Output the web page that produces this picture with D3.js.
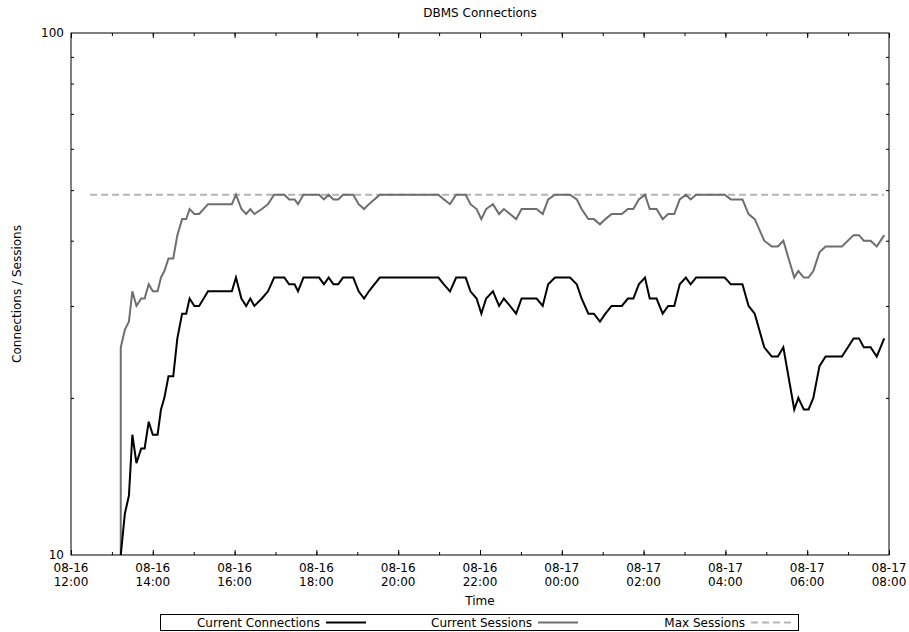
<!DOCTYPE html>
<html><head><meta charset="utf-8">
<script src="https://cdn.jsdelivr.net/npm/d3@7/dist/d3.min.js"></script>
<style>
body{margin:0;background:#fff;}
text{font-family:"DejaVu Sans",sans-serif;font-size:12px;fill:#000;}
</style></head>
<body><svg id="c" width="909" height="632"></svg>
<script>
const title = "DBMS Connections";
const xTitle = "Time";
const yTitle = "Connections / Sessions";
const seriesNames = ["Current Connections", "Current Sessions", "Max Sessions"];
const xDomain = ["08-16 12:00", "08-17 08:00"];
const yDomain = [10, 100];
const yTickLabels = [10, 100];
const yMinorTicks = [20, 30, 40, 50, 60, 70, 80, 90];

const connTimes = ["08-16 13:13","08-16 13:19","08-16 13:25","08-16 13:30","08-16 13:36","08-16 13:43","08-16 13:48","08-16 13:54","08-16 14:00","08-16 14:07","08-16 14:12","08-16 14:17","08-16 14:23","08-16 14:30","08-16 14:36","08-16 14:43","08-16 14:49","08-16 14:54","08-16 15:01","08-16 15:08","08-16 15:21","08-16 15:56","08-16 16:02","08-16 16:10","08-16 16:17","08-16 16:23","08-16 16:29","08-16 16:40","08-16 16:49","08-16 16:58","08-16 17:13","08-16 17:20","08-16 17:28","08-16 17:33","08-16 17:41","08-16 18:04","08-16 18:11","08-16 18:18","08-16 18:25","08-16 18:32","08-16 18:39","08-16 18:54","08-16 19:02","08-16 19:10","08-16 19:17","08-16 19:25","08-16 19:33","08-16 20:59","08-16 21:07","08-16 21:16","08-16 21:25","08-16 21:39","08-16 21:46","08-16 21:55","08-16 22:02","08-16 22:09","08-16 22:19","08-16 22:28","08-16 22:35","08-16 22:44","08-16 22:53","08-16 23:01","08-16 23:23","08-16 23:32","08-16 23:40","08-16 23:50","08-17 00:12","08-17 00:22","08-17 00:29","08-17 00:39","08-17 00:47","08-17 00:56","08-17 01:04","08-17 01:13","08-17 01:28","08-17 01:37","08-17 01:45","08-17 01:53","08-17 02:02","08-17 02:09","08-17 02:19","08-17 02:28","08-17 02:36","08-17 02:45","08-17 02:53","08-17 03:02","08-17 03:09","08-17 03:17","08-17 03:59","08-17 04:08","08-17 04:25","08-17 04:34","08-17 04:43","08-17 04:57","08-17 05:08","08-17 05:17","08-17 05:25","08-17 05:41","08-17 05:47","08-17 05:55","08-17 06:02","08-17 06:09","08-17 06:18","08-17 06:27","08-17 06:51","08-17 07:08","08-17 07:16","08-17 07:23","08-17 07:33","08-17 07:42","08-17 07:53"];
const connections = [10,12,13,17,15,16,16,18,17,17,19,20,22,22,26,29,29,31,30,30,32,32,34,31,30,31,30,31,32,34,34,33,33,32,34,34,33,34,33,33,34,34,32,31,32,33,34,34,33,32,34,34,32,31,29,31,32,30,31,30,29,31,31,30,33,34,34,33,31,29,29,28,29,30,30,31,31,33,34,31,31,29,30,30,33,34,33,34,34,33,33,30,29,25,24,24,25,19,20,19,19,20,23,24,24,26,26,25,25,24,26];

const sessTimes = ["08-16 13:13"].concat(connTimes);
const sessions = [10,25,27,28,32,30,31,31,33,32,32,34,35,37,37,41,44,44,46,45,45,47,47,49,46,45,46,45,46,47,49,49,48,48,47,49,49,48,49,48,48,49,49,47,46,47,48,49,49,48,47,49,49,47,46,44,46,47,45,46,45,44,46,46,45,48,49,49,48,46,44,44,43,44,45,45,46,46,48,49,46,46,44,45,45,48,49,48,49,49,48,48,45,44,40,39,39,40,34,35,34,34,35,38,39,39,41,41,40,40,39,41];

const maxTimes = ["08-16 12:28", "08-17 07:53"];
const maxSessions = [49, 49];

const parse = d3.utcParse("%Y-%m-%d %H:%M");
const P = s => parse("2015-" + s);

const W = 909, H = 632;
const m = {left: 71, right: 889, top: 33, bottom: 555};
const svg = d3.select("#c");
svg.append("rect").attr("width", W).attr("height", H).attr("fill", "#fff");

const x = d3.scaleUtc().domain(xDomain.map(P)).range([m.left, m.right]);
const y = d3.scaleLog().domain(yDomain).range([m.bottom, m.top]);

const majorX = d3.utcHour.every(2).range(P(xDomain[0]), d3.utcMinute.offset(P(xDomain[1]), 1));
const minorX = d3.utcHour.every(1).range(P(xDomain[0]), d3.utcMinute.offset(P(xDomain[1]), 1));
const fmtDay = d3.utcFormat("%m-%d"), fmtTime = d3.utcFormat("%H:%M");

const gB = svg.append("g").attr("transform", `translate(0,${m.bottom})`)
  .call(d3.axisBottom(x).tickValues(majorX).tickSize(-5).tickFormat(""));
const gBm = svg.append("g").attr("transform", `translate(0,${m.bottom})`)
  .call(d3.axisBottom(x).tickValues(minorX).tickSize(-3).tickFormat(""));
const gT = svg.append("g").attr("transform", `translate(0,${m.top})`)
  .call(d3.axisTop(x).tickValues(majorX).tickSize(-5).tickFormat(""));
const gTm = svg.append("g").attr("transform", `translate(0,${m.top})`)
  .call(d3.axisTop(x).tickValues(minorX).tickSize(-3).tickFormat(""));
const gL = svg.append("g").attr("transform", `translate(${m.left},0)`)
  .call(d3.axisLeft(y).tickValues(yMinorTicks).tickSize(-3).tickFormat(""));
const gR = svg.append("g").attr("transform", `translate(${m.right},0)`)
  .call(d3.axisRight(y).tickValues(yMinorTicks).tickSize(-3).tickFormat(""));
[gB, gBm, gT, gTm, gL, gR].forEach(g => {
  g.select(".domain").remove();
  g.selectAll("line").attr("stroke", "#000").attr("stroke-width", 1);
});

const xl = svg.append("g");
majorX.forEach(t => {
  const tx = xl.append("text").attr("x", x(t)).attr("y", 572).attr("text-anchor", "middle");
  tx.append("tspan").attr("x", x(t)).attr("dy", 0).text(fmtDay(t));
  tx.append("tspan").attr("x", x(t)).attr("dy", 14).text(fmtTime(t));
});
yTickLabels.forEach(v => {
  svg.append("text").attr("x", 64).attr("y", y(v) + 4).attr("text-anchor", "end").text(v);
});

const line = d3.line().x(d => x(d.t)).y(d => y(d.v));
const mk = (ts, vs) => ts.map((t, i) => ({t: P(t), v: vs[i]}));
svg.append("clipPath").attr("id", "pc").append("rect")
  .attr("x", m.left).attr("y", m.top).attr("width", m.right - m.left).attr("height", m.bottom - m.top);
const plot = svg.append("g").attr("clip-path", "url(#pc)");
plot.append("path").datum(mk(maxTimes, maxSessions)).attr("d", line)
  .attr("fill", "none").attr("stroke", "#b4b4b4").attr("stroke-width", 2).attr("stroke-dasharray", "7,4");
plot.append("path").datum(mk(sessTimes, sessions)).attr("d", line)
  .attr("fill", "none").attr("stroke", "#6e6e6e").attr("stroke-width", 2);
plot.append("path").datum(mk(connTimes, connections)).attr("d", line)
  .attr("fill", "none").attr("stroke", "#000").attr("stroke-width", 2);

svg.append("rect").attr("x", m.left).attr("y", m.top).attr("width", m.right - m.left).attr("height", m.bottom - m.top)
  .attr("fill", "none").attr("stroke", "#000").attr("stroke-width", 1);

svg.append("text").attr("x", 480).attr("y", 17).attr("text-anchor", "middle").text(title);
svg.append("text").attr("x", 480).attr("y", 605).attr("text-anchor", "middle").text(xTitle);
svg.append("text").attr("transform", `translate(21,${(m.top + m.bottom) / 2}) rotate(-90)`)
  .attr("text-anchor", "middle").text(yTitle);

const lg = svg.append("g");
lg.append("rect").attr("x", 160.5).attr("y", 614.5).attr("width", 638).attr("height", 16)
  .attr("fill", "#fff").attr("stroke", "#000").attr("stroke-width", 1);
const legStyles = [
  {c: "#000", d: null, tx: 320},
  {c: "#6e6e6e", d: null, tx: 532},
  {c: "#b4b4b4", d: "7,4", tx: 745}
];
seriesNames.forEach((n, i) => {
  const s = legStyles[i];
  lg.append("text").attr("x", s.tx).attr("y", 627).attr("text-anchor", "end").text(n);
  lg.append("line").attr("x1", s.tx + 6).attr("x2", s.tx + 46).attr("y1", 622.5).attr("y2", 622.5)
    .attr("stroke", s.c).attr("stroke-width", 2).attr("stroke-dasharray", s.d);
});
</script></body></html>
